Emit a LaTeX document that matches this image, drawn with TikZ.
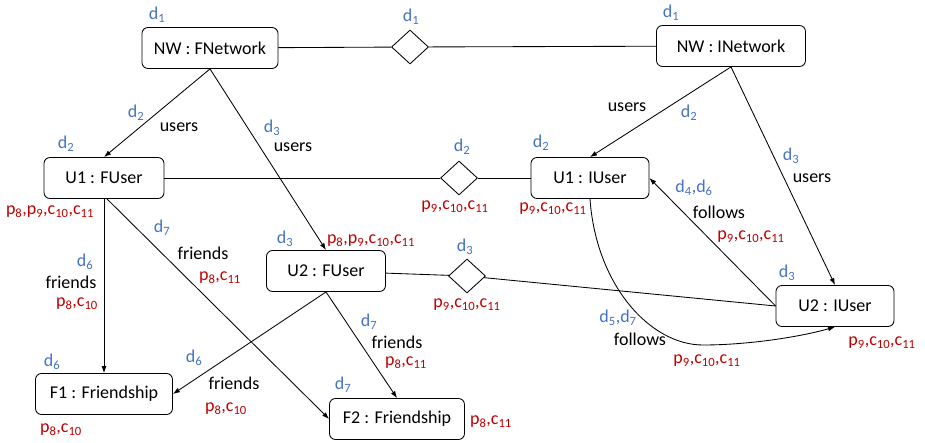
\documentclass[tikz,border=0pt]{standalone}
\usepackage{fontspec}
\setmainfont{Carlito}
\usetikzlibrary{shapes.geometric,arrows.meta}
\definecolor{dblue}{RGB}{68,114,196}
\definecolor{cred}{RGB}{192,0,0}
\newcommand{\lsub}[1]{\textsubscript{#1}}
\tikzset{
  obj/.style={draw, rounded corners=6pt, minimum height=41pt, inner sep=2pt},
  rel/.style={draw, diamond, minimum width=37pt, minimum height=34pt, inner sep=0pt},
  dlab/.style={text=dblue, inner sep=0pt},
  clab/.style={text=cred, inner sep=0pt},
  tlab/.style={inner sep=0pt},
}
\begin{document}
\begin{tikzpicture}[x=1pt, y=-1pt, >={Latex[length=7pt,width=5pt]}, line width=0.85pt,
    font=\fontsize{18}{22}\selectfont]
\useasboundingbox (0,0) rectangle (925,443);
% Các đối tượng
\node[obj, minimum width=136pt] (fnet) at (210,48) {NW : FNetwork};
\node[obj, minimum width=149pt] (inet) at (731,46) {NW : INetwork};
\node[obj, minimum width=120pt] (fu1) at (104,178) {U1 : FUser};
\node[obj, minimum width=119pt] (fu2) at (326,271) {U2 : FUser};
\node[obj, minimum width=118pt] (iu1) at (590,178) {U1 : IUser};
\node[obj, minimum width=118pt] (iu2) at (835,306) {U2 : IUser};
\node[obj, minimum width=137pt] (fs1) at (104,394) {F1 : Friendship};
\node[obj, minimum width=135pt] (fs2) at (397,419) {F2 : Friendship};
% Các hình thoi
\node[rel] (m1) at (410,47) {};
\node[rel] (m2) at (459,178) {};
\node[rel] (m3) at (467,276) {};
\coordinate (cbot) at (703,345);
% Các cạnh nối
\draw (fnet) -- (m1) -- (inet);
\draw (fu1) -- (m2) -- (iu1);
\draw (fu2) -- (m3) -- (iu2.west);
\draw[->] (fnet.south) -- (fu1.north);
\draw[->] (fnet.south) -- (fu2.north);
\draw[->] (inet.south) -- (iu1.north);
\draw[->] (inet.south) -- (iu2.north);
\draw[->] (iu2.west) -- (iu1.east);
\draw[->] (iu1.south) .. controls +(6,86) and +(-53,0) .. (cbot)
  .. controls +(45,0) and +(-35,10) .. (iu2.south);
\draw[->] (fu1.south) -- (fs1.north);
\draw[->] ([xshift=3pt]fu1.south) -- (fs2.west);
\draw[->] (fu2.south) -- (fs1.east);
\draw[->] (fu2.south) -- (fs2.north);
% Nhãn xanh (d)
\foreach \x/\y/\t [count=\i] in {157/15/{d\lsub{1}}, 411/17/{d\lsub{1}}, 671/13/{d\lsub{1}},
    136/113/{d\lsub{2}}, 66/144/{d\lsub{2}}, 462/147/{d\lsub{2}}, 541/143/{d\lsub{2}}, 689/113/{d\lsub{2}},
    272/128/{d\lsub{3}}, 285/239/{d\lsub{3}}, 465/247/{d\lsub{3}}, 791/156/{d\lsub{3}}, 787/273/{d\lsub{3}},
    694/188/{d\lsub{4},d\lsub{6}}, 618/318/{d\lsub{5},d\lsub{7}},
    85/262/{d\lsub{6}}, 194/358/{d\lsub{6}}, 52/362/{d\lsub{6}},
    162/228/{d\lsub{7}}, 369/322/{d\lsub{7}}, 343/385/{d\lsub{7}}} {
  \node[dlab] (bl\i) at (\x,\y) {\t};
}
% Tên quan hệ
\foreach \x/\y/\t [count=\i] in {179/127/users, 293/147/users, 627/107/users, 812/178/users,
    71/282/friends, 203/253/friends, 234/383/friends, 397/342/friends,
    719/212/follows, 640/339/follows} {
  \node[tlab] (bk\i) at (\x,\y) {\t};
}
% Nhãn đỏ (p, c)
\foreach \x/\y/\t [count=\i] in {50/212/{p\lsub{8},p\lsub{9},c\lsub{10},c\lsub{11}},
    371/241/{p\lsub{8},p\lsub{9},c\lsub{10},c\lsub{11}},
    455/207/{p\lsub{9},c\lsub{10},c\lsub{11}}, 553/209/{p\lsub{9},c\lsub{10},c\lsub{11}},
    467/305/{p\lsub{9},c\lsub{10},c\lsub{11}}, 751/237/{p\lsub{9},c\lsub{10},c\lsub{11}},
    882/343/{p\lsub{9},c\lsub{10},c\lsub{11}}, 707/361/{p\lsub{9},c\lsub{10},c\lsub{11}},
    77/304/{p\lsub{8},c\lsub{10}}, 220/278/{p\lsub{8},c\lsub{11}}, 226/409/{p\lsub{8},c\lsub{10}},
    406/363/{p\lsub{8},c\lsub{11}}, 61/430/{p\lsub{8},c\lsub{10}}, 491/422/{p\lsub{8},c\lsub{11}}} {
  \node[clab] (rd\i) at (\x,\y) {\t};
}
\end{tikzpicture}
\end{document}
